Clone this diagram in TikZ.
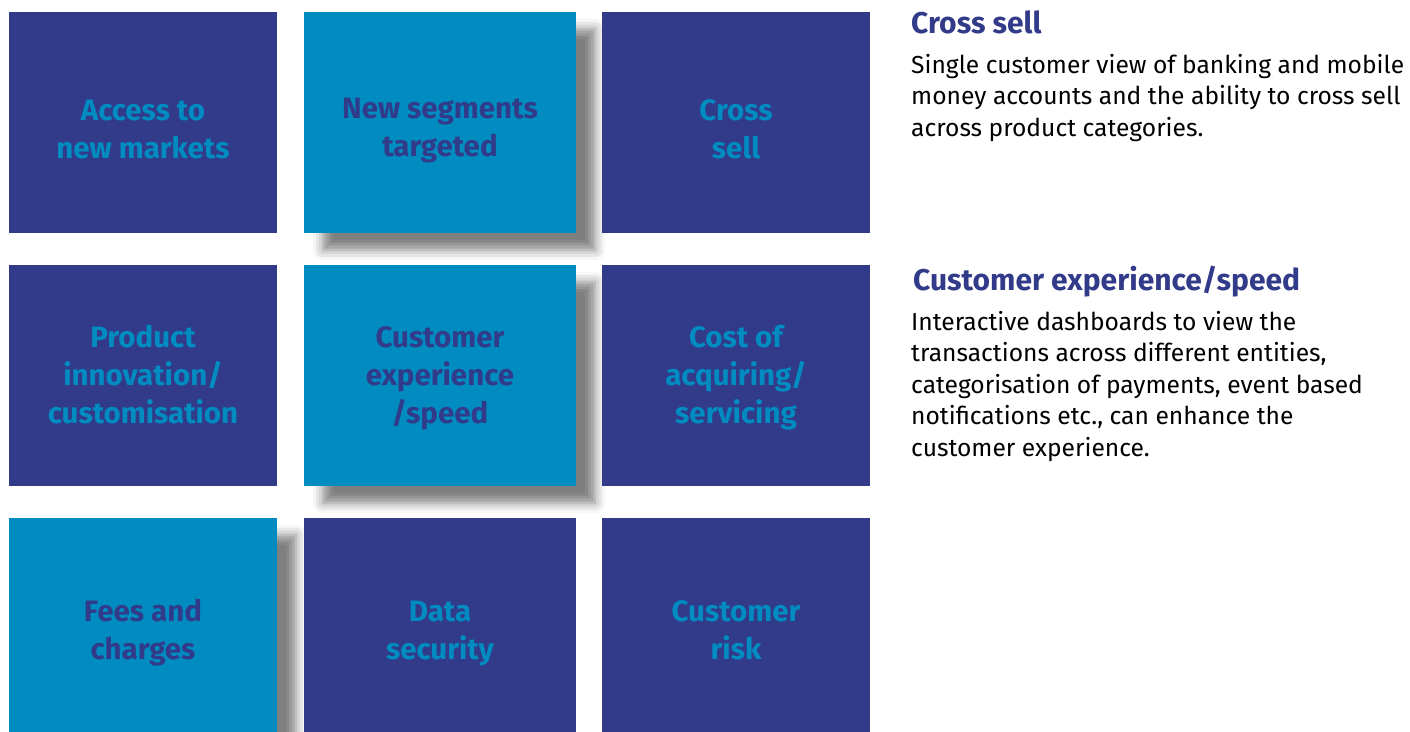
\documentclass[tikz,border=0pt]{standalone}
\usepackage{fontspec}
\setmainfont{Fira Sans}
\usetikzlibrary{shadows.blur}
\definecolor{dblue}{HTML}{313B89}
\definecolor{lblue}{HTML}{008CC1}
\setlength{\tabcolsep}{0pt}
\newcommand{\tiletext}[2]{\begin{tabular}{c}\noalign{\vskip#1}#2\end{tabular}}
\newcommand{\bodytext}[1]{\begin{tabular}[t]{@{}l@{}}#1\end{tabular}}
\tikzset{
  tile/.style={minimum width=268pt, minimum height=221pt, inner sep=0pt,
    font=\fontsize{29.5}{38}\selectfont\bfseries},
  darktile/.style={tile, fill=dblue, text=lblue},
  lighttile/.style={tile, fill=lblue, text=dblue,
    blur shadow={shadow xshift=19pt, shadow yshift=-17pt, shadow blur radius=10pt, shadow opacity=50}},
  heading/.style={anchor=base west, inner sep=0pt, text=dblue, font=\fontsize{30}{34}\selectfont\bfseries},
  body/.style={anchor=base west, inner sep=0pt, text=black, font=\fontsize{24.6}{31.6}\selectfont}
}
\begin{document}
\begin{tikzpicture}[x=1pt,y=-1pt]
\useasboundingbox (0,0) rectangle (1410,731);
% row 1
\node[darktile]  (a1) at (143,122.5) {\tiletext{19pt}{Access to\\new markets}};
\node[lighttile, minimum width=272pt] (a2) at (440,122.5) {\tiletext{14pt}{New segments\\targeted}};
\node[darktile]  (a3) at (736,122.5) {\tiletext{19pt}{Cross\\sell}};
% row 2
\node[darktile]  (b1) at (143,375.5) {\tiletext{5pt}{Product\\innovation/\\customisation}};
\node[lighttile, minimum width=272pt] (b2) at (440,375.5) {\tiletext{5pt}{Customer\\experience\\/speed}};
\node[darktile]  (b3) at (736,375.5) {\tiletext{5pt}{Cost of\\acquiring/\\servicing}};
% row 3
\node[lighttile] (c1) at (143,628.5) {\tiletext{8pt}{Fees and\\charges}};
\node[darktile, minimum width=272pt]  (c2) at (440,628.5) {\tiletext{8pt}{Data\\security}};
\node[darktile]  (c3) at (736,628.5) {\tiletext{8pt}{Customer\\risk}};
% right texts
\node[heading] (h1) at (911,33) {Cross sell};
\node[body] (t1) at (911,73) {\bodytext{Single customer view of banking and mobile\\money accounts and the ability to cross sell\\across product categories.}};
\node[heading] (h2) at (913,290) {Customer experience/speed};
\node[body] (t2) at (911,330) {\bodytext{Interactive dashboards to view the\\transactions across different entities,\\categorisation of payments, event based\\notifications etc., can enhance the\\customer experience.}};
\end{tikzpicture}
\end{document}
